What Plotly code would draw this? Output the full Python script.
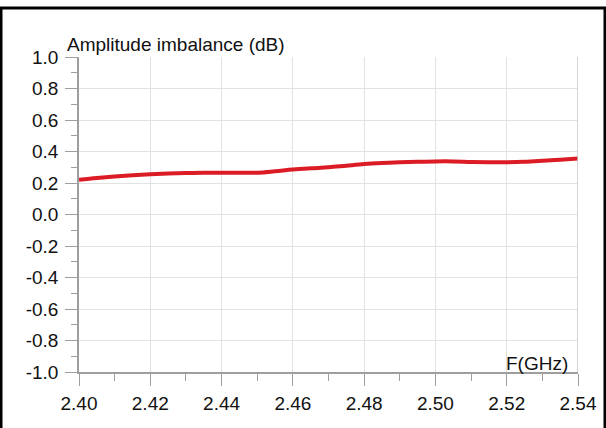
import plotly.graph_objects as go

freq_ghz = [2.400, 2.405, 2.410, 2.415, 2.420, 2.425, 2.430, 2.435, 2.440, 2.445,
            2.450, 2.455, 2.460, 2.465, 2.470, 2.475, 2.480, 2.485, 2.490, 2.495,
            2.500, 2.505, 2.510, 2.515, 2.520, 2.525, 2.530, 2.535, 2.540]
amp_imbalance_db = [0.220, 0.232, 0.242, 0.250, 0.256, 0.260, 0.263, 0.265, 0.265, 0.265,
                    0.265, 0.274, 0.285, 0.293, 0.300, 0.310, 0.320, 0.327, 0.332, 0.335,
                    0.337, 0.337, 0.334, 0.332, 0.332, 0.335, 0.341, 0.348, 0.355]
x_ticks = [2.40, 2.42, 2.44, 2.46, 2.48, 2.50, 2.52, 2.54]
y_ticks = [1.0, 0.8, 0.6, 0.4, 0.2, 0.0, -0.2, -0.4, -0.6, -0.8, -1.0]
y_title = "Amplitude imbalance (dB)"
x_title = "F(GHz)"

font_family = "Liberation Sans, Arial, sans-serif"
axis_col = "#9e9e9e"
grid_col = "#e2e2e2"

fig = go.Figure()
fig.add_trace(go.Scatter(
    x=freq_ghz, y=amp_imbalance_db, mode="lines",
    line=dict(color="#dc1c24", width=4, shape="spline"),
    showlegend=False, hoverinfo="skip"))

fig.update_xaxes(
    range=[2.40, 2.54], tickvals=x_ticks,
    ticktext=[f"{v:.2f}" for v in x_ticks],
    showgrid=True, gridcolor=grid_col, gridwidth=1,
    showline=True, linecolor=axis_col, linewidth=1.5,
    ticks="outside", ticklen=12, tickcolor=axis_col, tickwidth=1.2,
    minor=dict(dtick=0.01, tick0=2.40, ticks="outside", ticklen=7,
               tickcolor=axis_col, tickwidth=1.2, showgrid=False),
    tickfont=dict(family=font_family, size=19, color="#111"),
    ticklabelstandoff=1, zeroline=False, fixedrange=True, automargin=False)

fig.update_yaxes(
    range=[-1.0, 1.0], tickvals=y_ticks,
    ticktext=[f"{v:.1f}" for v in y_ticks],
    showgrid=True, gridcolor=grid_col, gridwidth=1,
    showline=True, linecolor=axis_col, linewidth=1.5,
    ticks="outside", ticklen=12, tickcolor=axis_col, tickwidth=1.2,
    minor=dict(dtick=0.1, tick0=0, ticks="outside", ticklen=6,
               tickcolor=axis_col, tickwidth=1.2, showgrid=False),
    tickfont=dict(family=font_family, size=19, color="#111"),
    ticklabelstandoff=3, zeroline=False, fixedrange=True, automargin=False)

# right edge gridline
fig.add_shape(type="line", xref="x", yref="paper", x0=2.54, x1=2.54, y0=0, y1=1,
              line=dict(color="#c8c8c8", width=1.5))

fig.add_annotation(x=2.40, y=1.0, xref="x", yref="y", text=y_title,
                   showarrow=False, xanchor="left", yanchor="bottom",
                   xshift=-14, yshift=0,
                   font=dict(family=font_family, size=19, color="#111"))
fig.add_annotation(x=2.537, y=-1.0, xref="x", yref="y", text=x_title,
                   showarrow=False, xanchor="right", yanchor="bottom",
                   xshift=3, yshift=-4,
                   font=dict(family=font_family, size=19, color="#111"))

# outer frame
fig.add_shape(type="rect", xref="paper", yref="paper",
              x0=-78/499, x1=(605-79)/499, y0=-60/315, y1=(372-8)/315,
              line=dict(color="black", width=3), fillcolor="rgba(0,0,0,0)",
              layer="below")

fig.update_layout(
    width=606, height=428,
    margin=dict(l=79, r=28, t=57, b=56, autoexpand=False),
    plot_bgcolor="white", paper_bgcolor="white",
    font=dict(family=font_family),
)

fig.write_html("out.html", config={"displayModeBar": False},
               post_script="document.body.style.margin='0';document.body.style.overflow='hidden';")
